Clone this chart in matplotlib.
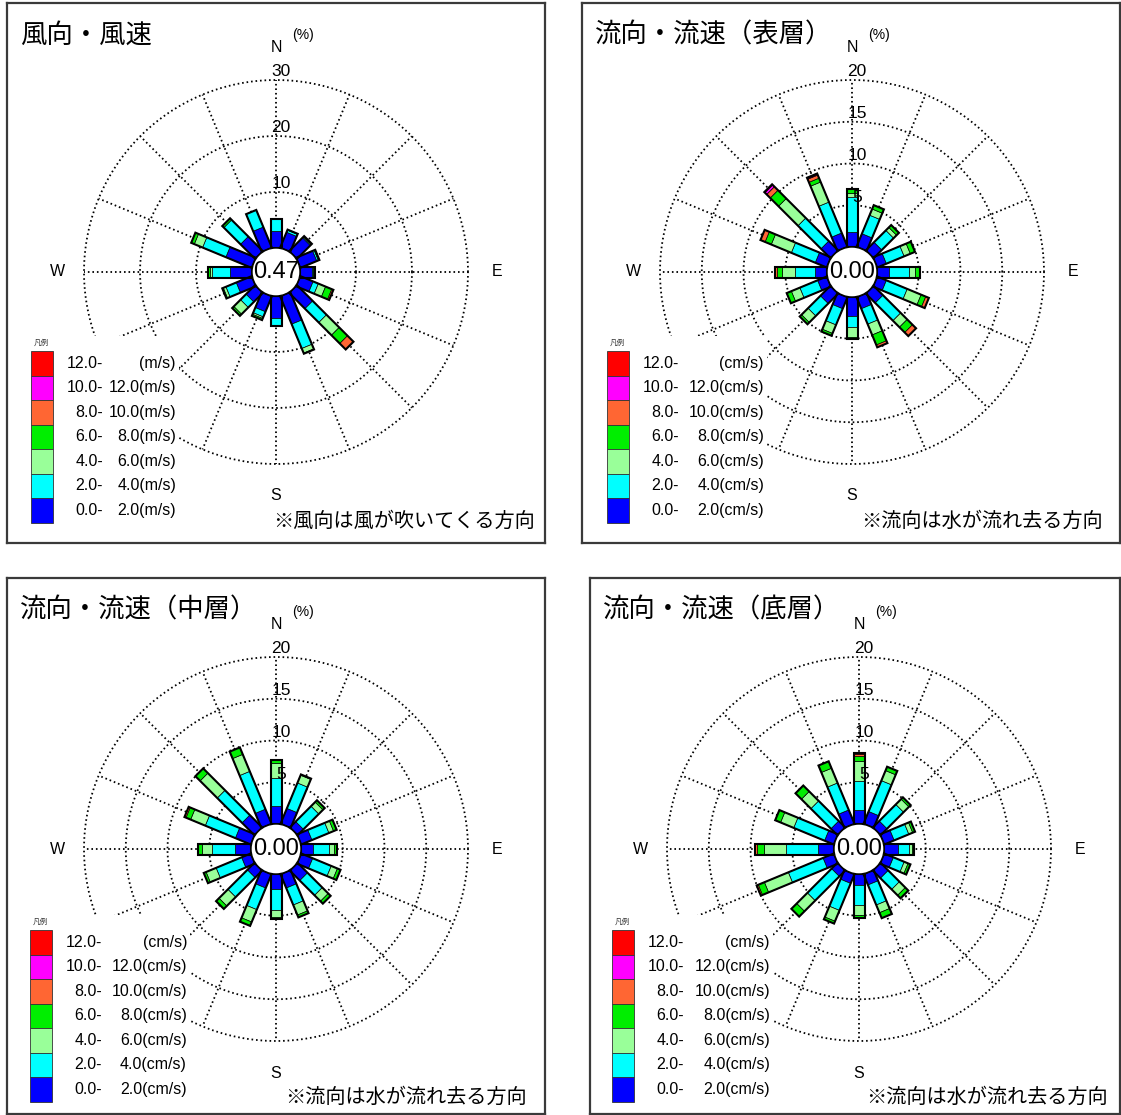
import numpy as np
import matplotlib
matplotlib.use('Agg')
import matplotlib.pyplot as plt
from matplotlib.patches import Rectangle, Circle
from matplotlib.transforms import Affine2D

plt.rcParams['font.family'] = ['Liberation Sans', 'Noto Sans CJK JP']

# 16 directions, clockwise from north
directions = ['N', 'NNE', 'NE', 'ENE', 'E', 'ESE', 'SE', 'SSE',
              'S', 'SSW', 'SW', 'WSW', 'W', 'WNW', 'NW', 'NNW']
angles = np.arange(16) * 22.5

# speed classes (low -> high)
speed_low = ['0.0-', '2.0-', '4.0-', '6.0-', '8.0-', '10.0-', '12.0-']
speed_high = ['2.0', '4.0', '6.0', '8.0', '10.0', '12.0', '']
colors = ['#0000ff', '#00ffff', '#99ff99', '#00ee00', '#ff6633', '#ff00ff', '#ff0000']

# frequency (%) per direction, columns = speed classes
wind = np.array([
    [3.0, 2.1, 0.0, 0.0, 0.0, 0.0, 0.0],
    [3.0, 0.4, 0.0, 0.1, 0.0, 0.0, 0.0],
    [3.4, 0.2, 0.1, 0.1, 0.0, 0.0, 0.0],
    [3.2, 0.3, 0.0, 0.2, 0.0, 0.0, 0.0],
    [2.1, 0.3, 0.0, 0.3, 0.0, 0.0, 0.0],
    [2.5, 1.0, 1.4, 1.2, 0.3, 0.0, 0.0],
    [4.0, 3.5, 3.2, 2.1, 1.5, 0.0, 0.0],
    [5.4, 4.7, 0.9, 0.1, 0.0, 0.0, 0.0],
    [4.0, 1.4, 0.0, 0.0, 0.0, 0.0, 0.0],
    [3.0, 1.0, 0.3, 0.3, 0.0, 0.0, 0.0],
    [2.3, 1.4, 1.7, 0.4, 0.0, 0.0, 0.0],
    [3.0, 2.0, 0.5, 0.2, 0.0, 0.0, 0.0],
    [3.9, 3.3, 0.3, 0.3, 0.0, 0.0, 0.0],
    [5.0, 4.5, 1.6, 0.6, 0.0, 0.0, 0.0],
    [3.7, 4.2, 0.0, 0.4, 0.0, 0.0, 0.0],
    [4.0, 3.3, 0.0, 0.0, 0.0, 0.0, 0.0],
])
surface = np.array([
    [1.8, 4.2, 0.5, 0.4, 0.0, 0.0, 0.0],
    [1.7, 2.4, 0.8, 0.5, 0.0, 0.0, 0.0],
    [1.4, 2.0, 0.5, 0.4, 0.0, 0.0, 0.0],
    [1.2, 2.3, 0.8, 0.6, 0.0, 0.0, 0.0],
    [1.4, 2.4, 0.8, 0.6, 0.0, 0.0, 0.0],
    [1.2, 2.7, 1.8, 0.6, 0.4, 0.0, 0.0],
    [1.6, 3.0, 1.1, 0.9, 0.6, 0.0, 0.0],
    [1.5, 2.0, 1.4, 1.3, 0.3, 0.0, 0.0],
    [2.3, 1.3, 1.2, 0.2, 0.0, 0.0, 0.0],
    [1.5, 2.1, 1.1, 0.3, 0.0, 0.0, 0.0],
    [1.7, 2.1, 1.1, 0.3, 0.0, 0.0, 0.0],
    [1.2, 2.3, 1.1, 0.6, 0.0, 0.0, 0.0],
    [1.4, 2.4, 1.6, 0.6, 0.2, 0.0, 0.0],
    [1.5, 3.1, 2.6, 0.8, 0.6, 0.0, 0.0],
    [1.6, 3.9, 3.3, 1.4, 0.6, 0.3, 0.1],
    [1.8, 4.0, 2.6, 0.5, 0.4, 0.1, 0.1],
])
middle = np.array([
    [2.2, 3.3, 1.8, 0.4, 0.0, 0.0, 0.0],
    [2.0, 3.3, 1.0, 0.1, 0.0, 0.0, 0.0],
    [1.0, 2.6, 0.7, 0.3, 0.0, 0.0, 0.0],
    [1.4, 2.2, 0.6, 0.4, 0.0, 0.0, 0.0],
    [1.4, 1.9, 0.7, 0.3, 0.0, 0.0, 0.0],
    [1.5, 2.4, 0.8, 0.4, 0.0, 0.0, 0.0],
    [1.7, 2.5, 1.0, 0.4, 0.0, 0.0, 0.0],
    [1.8, 2.2, 1.3, 0.3, 0.0, 0.0, 0.0],
    [1.8, 2.5, 0.9, 0.2, 0.0, 0.0, 0.0],
    [1.8, 2.8, 1.6, 0.5, 0.0, 0.0, 0.0],
    [1.2, 3.3, 1.5, 0.5, 0.0, 0.0, 0.0],
    [1.2, 3.3, 1.3, 0.3, 0.0, 0.0, 0.0],
    [1.9, 2.8, 1.2, 0.5, 0.0, 0.0, 0.0],
    [2.0, 3.9, 1.9, 0.6, 0.2, 0.0, 0.0],
    [2.1, 4.2, 2.9, 0.8, 0.0, 0.0, 0.0],
    [1.9, 4.9, 2.2, 0.9, 0.0, 0.0, 0.0],
])
bottom = np.array([
    [1.7, 3.4, 2.5, 0.5, 0.3, 0.0, 0.1],
    [1.6, 4.0, 1.3, 0.5, 0.0, 0.0, 0.0],
    [1.1, 2.8, 0.9, 0.3, 0.0, 0.0, 0.0],
    [1.3, 1.9, 0.5, 0.3, 0.0, 0.0, 0.0],
    [1.7, 1.3, 0.4, 0.2, 0.0, 0.0, 0.0],
    [1.2, 1.4, 0.5, 0.3, 0.0, 0.0, 0.0],
    [1.3, 1.9, 1.0, 0.5, 0.0, 0.0, 0.0],
    [1.4, 2.6, 1.0, 0.7, 0.0, 0.0, 0.0],
    [1.3, 2.4, 1.2, 0.4, 0.0, 0.0, 0.0],
    [1.2, 3.5, 1.4, 0.3, 0.0, 0.0, 0.0],
    [1.0, 4.1, 1.8, 0.9, 0.0, 0.0, 0.0],
    [1.4, 4.5, 3.1, 0.8, 0.2, 0.0, 0.0],
    [1.9, 3.9, 2.6, 0.8, 0.3, 0.0, 0.0],
    [1.2, 4.0, 1.7, 0.7, 0.0, 0.0, 0.0],
    [1.1, 3.4, 1.6, 1.0, 0.0, 0.0, 0.0],
    [1.8, 3.5, 1.9, 0.9, 0.0, 0.0, 0.0],
])
calm = [0.47, 0.00, 0.00, 0.00]

titles = ['風向・風速', '流向・流速（表層）', '流向・流速（中層）', '流向・流速（底層）']
notes = ['※風向は風が吹いてくる方向', '※流向は水が流れ去る方向',
         '※流向は水が流れ去る方向', '※流向は水が流れ去る方向']
units = ['m/s', 'cm/s', 'cm/s', 'cm/s']
ring_values = [[10, 20, 30], [5, 10, 15, 20], [5, 10, 15, 20], [5, 10, 15, 20]]

W, H = 1121, 1115
fig = plt.figure(figsize=(W / 100, H / 100), dpi=100)

OUTER = 192    # radius of the outermost ring in px
BAR_W = 11     # bar width in px


def draw_panel(frame, center, hole, rings, data, calm_val, title, note, unit, leg, note_pos):
    x0, y0, x1, y1 = frame
    cx, cy = center
    rmax = rings[-1]
    s = (OUTER - hole) / rmax      # px per percent
    h = hole / s                   # hole radius in data units
    ax = fig.add_axes([x0 / W, 1 - y1 / H, (x1 - x0) / W, (y1 - y0) / H])
    ax.set_xticks([])
    ax.set_yticks([])
    for sp in ax.spines.values():
        sp.set_color('#3a3a3a')
        sp.set_linewidth(1.6)

    def px(dx, dy):
        # pixel offset from rose centre -> data coords
        return dx / s, -dy / s

    dotted = dict(color='black', lw=1.3, ls=(0, (0.9, 1.6)), zorder=1)
    t = np.linspace(0, 2 * np.pi, 400)
    for v in rings:
        ax.plot((h + v) * np.cos(t), (h + v) * np.sin(t), **dotted)
        tx, ty = px(5, -(hole + v * s) - 8)
        ax.text(tx, ty, str(v), ha='center', va='center', fontsize=12.5, zorder=7)
    for a in np.radians(angles):
        ax.plot([h * np.sin(a), (h + rmax) * np.sin(a)],
                [h * np.cos(a), (h + rmax) * np.cos(a)], **dotted)

    # stacked bars, one rotated column per direction
    w = BAR_W / s
    for i, a in enumerate(angles):
        rot = Affine2D().rotate_deg(-a) + ax.transData
        base = h
        for k in range(len(colors)):
            v = data[i, k]
            if v <= 0:
                continue
            ax.bar(0, v, width=w, bottom=base, color=colors[k], edgecolor='black',
                   linewidth=0.5, transform=rot, zorder=3)
            base += v
        ax.bar(0, data[i].sum(), width=w, bottom=h, fill=False, edgecolor='black',
               linewidth=1.5, transform=rot, zorder=4)

    ax.add_patch(Circle((0, 0), h, facecolor='white', edgecolor='black', lw=1.0, zorder=5))
    ax.text(0, 0, f'{calm_val:.2f}', ha='center', va='center', fontsize=17, zorder=6)

    for lab, (dx, dy) in zip(['N', 'E', 'S', 'W'],
                             [(0, -224), (221, 0), (0, 224), (-219, 0)]):
        ax.text(*px(dx, dy), lab, ha='center', va='center', fontsize=11.5)
    ax.text(*px(27, -237), '(%)', ha='center', va='center', fontsize=10)

    # title and note
    ax.text(*px(x0 + 13 - cx, y0 + 32 - cy), title, ha='left', va='center', fontsize=19)
    nx, ny = note_pos
    ax.text(*px(x1 - nx - cx, y1 - ny - cy), note, ha='right', va='center', fontsize=14.5)

    # legend
    lx, ly, right_col = leg
    bh = 24.5
    bx0, by0 = px(x0 + lx - 7 - cx, y0 + ly - 15 - cy)
    bx1, by1 = px(x0 + right_col + 3 - cx, y0 + ly + 7 * bh + 10 - cy)
    ax.add_patch(Rectangle((bx0, by1), bx1 - bx0, by0 - by1, facecolor='white',
                           edgecolor='none', zorder=8))
    ax.text(*px(x0 + lx + 10 - cx, y0 + ly - 8 - cy), '凡例', ha='center', va='center',
            fontsize=5.5, color='#333333', zorder=9)
    for j in range(7):
        k = 6 - j
        top = y0 + ly + j * bh
        rx, ry = px(x0 + lx - cx, top + bh - cy)
        ax.add_patch(Rectangle((rx, ry), 22 / s, bh / s, facecolor=colors[k],
                               edgecolor='#333333', lw=0.6, zorder=9))
        yc = top + bh / 2
        ax.text(*px(x0 + lx + 72 - cx, yc - cy), speed_low[k], ha='right', va='center',
                fontsize=11.5, zorder=9)
        ax.text(*px(x0 + right_col - cx, yc - cy), f'{speed_high[k]}({unit})',
                ha='right', va='center', fontsize=11.5, zorder=9)

    ax.set_xlim((x0 - cx) / s, (x1 - cx) / s)
    ax.set_ylim((cy - y1) / s, (cy - y0) / s)


frames = [(7, 3, 545, 543), (582, 3, 1120, 543), (7, 578, 545, 1114), (590, 578, 1120, 1114)]
centers = [(276, 272), (852, 272), (276, 849), (859, 849)]
holes = [24, 25, 25, 25]
legends = [(24, 348, 169), (25, 348, 182), (23, 352, 180), (22, 352, 180)]
note_positions = [(10, 22), (17, 22), (18, 17), (12, 17)]
datasets = [wind, surface, middle, bottom]

for n in range(4):
    draw_panel(frames[n], centers[n], holes[n], ring_values[n], datasets[n], calm[n],
               titles[n], notes[n], units[n], legends[n], note_positions[n])

fig.savefig('out.png', dpi=100)
